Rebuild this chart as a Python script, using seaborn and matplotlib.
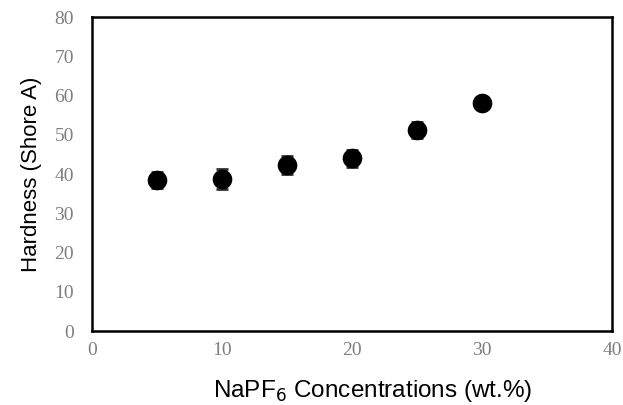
import matplotlib
matplotlib.use('Agg')
import matplotlib.pyplot as plt
import seaborn as sns
import pandas as pd

# values
concentration = [5, 10, 15, 20, 25, 30]
hardness = [38.5, 38.7, 42.3, 44.0, 51.2, 58.0]
hardness_err = [2.1, 2.5, 2.2, 2.1, 2.0, 1.3]

df = pd.DataFrame({'conc': concentration, 'hard': hardness, 'err': hardness_err})

sns.set_style('white')
fig = plt.figure(figsize=(6.23, 4.05), dpi=100)
ax = fig.add_axes([0.1477, 0.1827, 0.8346, 0.7753])

ax.errorbar(df.conc, df.hard, yerr=df.err, fmt='none', ecolor='#303030',
            elinewidth=1.2, capsize=4.5, capthick=2, zorder=2)
sns.scatterplot(data=df, x='conc', y='hard', ax=ax, s=200, color='black',
                edgecolor='black', linewidth=0, zorder=3)

ax.set_xlim(0, 40)
ax.set_ylim(0, 80)
ax.set_xticks(range(0, 41, 10))
ax.set_yticks(range(0, 81, 10))
ax.tick_params(length=0, labelsize=14, labelcolor='#7f7f7f')
ax.tick_params(axis='y', pad=13)
ax.tick_params(axis='x', pad=8)
for lab in ax.get_xticklabels() + ax.get_yticklabels():
    lab.set_family('Liberation Serif')

for side in ax.spines.values():
    side.set_color('black')
    side.set_linewidth(1.8)

ax.set_xlabel(r'NaPF$_6$ Concentrations (wt.%)', fontsize=17.5, color='black',
              family='Liberation Sans', va='center')
ax.xaxis.set_label_coords(0.54, -0.19)
ax.set_ylabel('Hardness (Shore A)', fontsize=16, color='black',
              family='Liberation Sans', labelpad=9)

fig.savefig('out.png', dpi=100)
